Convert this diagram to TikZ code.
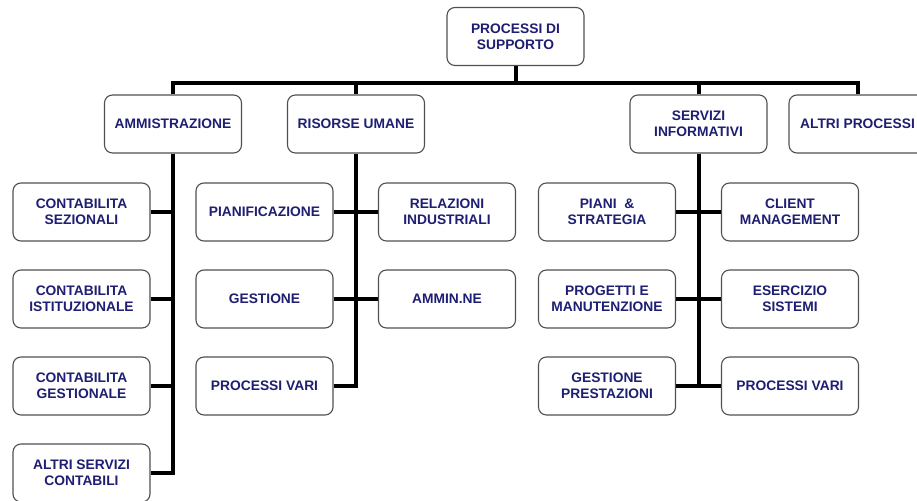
\documentclass[tikz,border=0pt]{standalone}
\usepackage{fontspec}
\setmainfont{Liberation Sans}
\begin{document}
\definecolor{labelblue}{RGB}{30,30,115}
\definecolor{boxline}{RGB}{80,80,80}
\begin{tikzpicture}[x=1pt,y=-1pt,
  unit/.style={draw=boxline,line width=1.1pt,rounded corners=8pt,fill=white,
    minimum width=137pt,minimum height=58pt,inner sep=2pt,align=center,
    text=labelblue,font=\fontsize{13.8}{15.8}\selectfont\bfseries},
  link/.style={line width=4pt,line join=miter,draw=black}]
\useasboundingbox (0,0) rectangle (917,500);
\clip (0,0) rectangle (917,500);
\fill[white] (0,0) rectangle (917,500);

% root and the four areas
\node[unit] (top) at (515.5,36.5) {PROCESSI DI\\SUPPORTO};
\node[unit] (amm) at (173,124) {AMMISTRAZIONE};
\node[unit] (ris) at (356,124) {RISORSE UMANE};
\node[unit] (ser) at (698.5,124) {SERVIZI\\INFORMATIVI};
\node[unit] (alt) at (857.5,124) {ALTRI PROCESSI};
\coordinate (bus) at (0,83);

% administration column
\node[unit] (cs) at (81.5,212) {CONTABILITA\\SEZIONALI};
\node[unit] (ci) at (81.5,299) {CONTABILITA\\ISTITUZIONALE};
\node[unit] (cg) at (81.5,386) {CONTABILITA\\GESTIONALE};
\node[unit] (asc) at (81.5,473) {ALTRI SERVIZI\\CONTABILI};

% human resources column
\node[unit] (pian) at (264.5,212) {PIANIFICAZIONE};
\node[unit] (gest) at (264.5,299) {GESTIONE};
\node[unit] (pvr) at (264.5,386) {PROCESSI VARI};
\node[unit] (rel) at (447,212) {RELAZIONI\\INDUSTRIALI};
\node[unit] (ammne) at (447,299) {AMMIN.NE};

% information services column
\node[unit] (pia) at (607,212) {PIANI\ \ \&\\STRATEGIA};
\node[unit] (prog) at (607,299) {PROGETTI E\\MANUTENZIONE};
\node[unit] (gp) at (607,386) {GESTIONE\\PRESTAZIONI};
\node[unit] (cm) at (790,212) {CLIENT\\MANAGEMENT};
\node[unit] (es) at (790,299) {ESERCIZIO\\SISTEMI};
\node[unit] (pvs) at (790,386) {PROCESSI VARI};

% top level bus
\draw[link] (top.south) -- (top.south |- bus);
\draw[link] (amm.north) -- (amm.north |- bus) -- (alt.north |- bus) -- (alt.north);
\draw[link] (ris.north) -- (ris.north |- bus);
\draw[link] (ser.north) -- (ser.north |- bus);

% administration trunk
\draw[link] (amm.south) -- (amm.south |- asc.east) -- (asc.east);
\draw[link] (cs.east) -- (cs.east -| amm.south);
\draw[link] (ci.east) -- (ci.east -| amm.south);
\draw[link] (cg.east) -- (cg.east -| amm.south);

% human resources trunk
\draw[link] (ris.south) -- (ris.south |- pvr.east) -- (pvr.east);
\draw[link] (pian.east) -- (rel.west);
\draw[link] (gest.east) -- (ammne.west);

% information services trunk
\draw[link] (ser.south) -- (ser.south |- gp.east);
\draw[link] (gp.east) -- (pvs.west);
\draw[link] (pia.east) -- (cm.west);
\draw[link] (prog.east) -- (es.west);
\end{tikzpicture}
\end{document}
